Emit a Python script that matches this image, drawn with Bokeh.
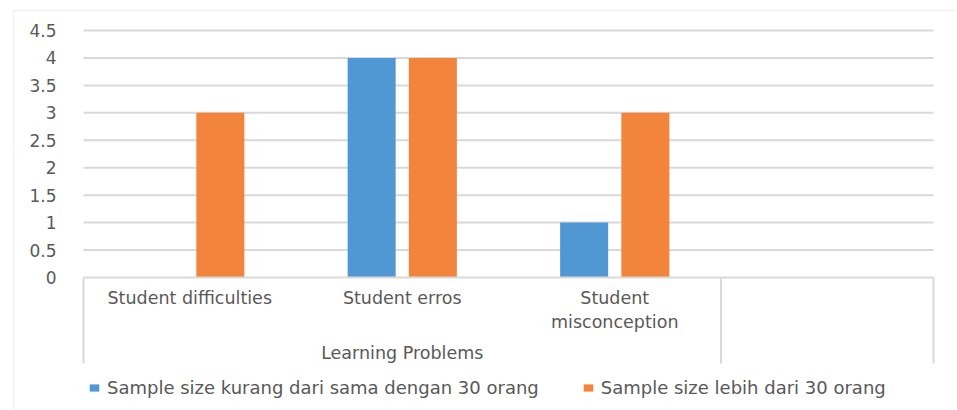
from bokeh.plotting import figure
from bokeh.models import (Range1d, FixedTicker, NumeralTickFormatter, Label,
                          BoxAnnotation, Legend, LegendItem, ColumnDataSource)
from bokeh.transform import dodge
from bokeh.embed import file_html
from bokeh.resources import INLINE

# ---- data -------------------------------------------------------------
categories = ["Student difficulties", "Student erros", "Student\nmisconception"]
group_name = "Learning Problems"
slot_count = 4  # three categories plus one empty slot at the end of the axis
series_names = ["Sample size kurang dari sama dengan 30 orang",
                "Sample size lebih dari 30 orang"]
small_sample = [0, 4, 1]
large_sample = [3, 4, 3]
y_ticks = [0, 0.5, 1, 1.5, 2, 2.5, 3, 3.5, 4, 4.5]

# ---- style ------------------------------------------------------------
FONT = "DejaVu Sans"
TEXT = "#595959"
GRID = "#d9d9d9"
COLORS = ["#5097d3", "#f2843b"]
BAR_W = 0.226
OFFSET = 0.144

W, H = 957, 410
# pixel box of the plotting area inside the chart
LEFT, RIGHT, TOP, BASE = 83, 933, 30, 277
px_x = (RIGHT - LEFT) / slot_count          # pixels per category slot
px_y = (BASE - TOP) / max(y_ticks)          # pixels per value unit

def dx(px):
    return px / px_x

def dy(px):
    return px / px_y

centers = [i + 0.5 for i in range(len(categories))]
src = ColumnDataSource(dict(x=centers, small=small_sample, large=large_sample))

# the frame fills the whole canvas; axes are pinned inside it
p = figure(width=W, height=H, output_backend="svg", toolbar_location=None,
           x_range=Range1d(-dx(LEFT), slot_count + dx(W - RIGHT)),
           y_range=Range1d(-dy(H - BASE), max(y_ticks) + dy(TOP)),
           min_border=0)
p.outline_line_color = None
p.background_fill_color = "white"
p.border_fill_color = "white"
p.xgrid.visible = False
p.ygrid.visible = False

# horizontal gridlines across the category slots
grid_levels = [t for t in y_ticks if t != 0]
p.segment(x0=[0] * len(grid_levels), x1=[slot_count] * len(grid_levels),
          y0=grid_levels, y1=grid_levels, line_color=GRID, line_width=2)

r_small = p.vbar(x=dodge("x", -OFFSET, range=p.x_range), top="small", width=BAR_W,
                 bottom=0, source=src, fill_color=COLORS[0], line_color=None)
r_large = p.vbar(x=dodge("x", OFFSET, range=p.x_range), top="large", width=BAR_W,
                 bottom=0, source=src, fill_color=COLORS[1], line_color=None)

# separators below the axis: start, end of the group, end of the axis
sep_x = [0, len(categories), slot_count]
p.segment(x0=sep_x, x1=sep_x, y0=[0] * 3, y1=[-dy(86)] * 3,
          line_color=GRID, line_width=2)

# y axis pinned at the left edge of the plotting area
yax = p.yaxis[0]
yax.fixed_location = 0
yax.ticker = FixedTicker(ticks=y_ticks)
yax.formatter = NumeralTickFormatter(format="0.[0]")
yax.axis_line_color = None
yax.major_tick_line_color = None
yax.minor_tick_line_color = None
yax.major_label_standoff = 21
yax.major_label_text_font = FONT
yax.major_label_text_font_size = "17px"
yax.major_label_text_color = TEXT

# x axis pinned at value 0, category names at slot centres
xax = p.xaxis[0]
xax.fixed_location = 0
xax.bounds = (0, slot_count)
xax.ticker = FixedTicker(ticks=centers, minor_ticks=[])
xax.major_label_overrides = {c: lab for c, lab in zip(centers, categories)}
xax.major_tick_line_color = None
xax.major_tick_in = 0
xax.major_tick_out = 0
xax.minor_tick_line_color = None
xax.axis_line_color = GRID
xax.axis_line_width = 2
xax.major_label_standoff = 10
xax.major_label_text_font = FONT
xax.major_label_text_font_size = "17.5px"
xax.major_label_text_color = TEXT

# group label under the first three categories
p.add_layout(Label(x=sum(centers) / len(centers), y=-dy(75), text=group_name,
                   text_align="center", text_baseline="middle",
                   text_font=FONT, text_font_size="17.5px", text_color=TEXT))

# outer chart border (right and bottom edges fall outside the canvas)
p.add_layout(BoxAnnotation(left=-dx(LEFT - 13), right=slot_count + 1,
                           top=max(y_ticks) + dy(TOP - 10), bottom=-dy(H),
                           fill_alpha=0, line_color=GRID, line_width=2))

legend = Legend(items=[LegendItem(label=series_names[0], renderers=[r_small]),
                       LegendItem(label=series_names[1], renderers=[r_large])],
                orientation="horizontal", location=(88, 12),
                glyph_width=12, glyph_height=9, label_standoff=7, spacing=43,
                padding=0, margin=0, border_line_color=None,
                background_fill_alpha=0,
                label_text_font=FONT, label_text_font_size="18px",
                label_text_color=TEXT)
p.add_layout(legend)

open("out.html", "w").write(file_html(p, INLINE))
